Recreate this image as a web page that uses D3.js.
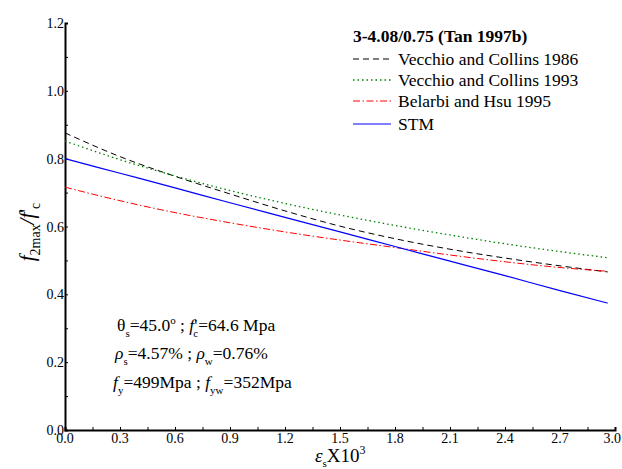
<!DOCTYPE html>
<html><head><meta charset="utf-8">
<script src="https://cdn.jsdelivr.net/npm/d3@7"></script>
<style>body{margin:0;background:#fff}svg{display:block}svg text{font-family:"Liberation Serif","Times New Roman",Tinos,"DejaVu Serif",serif !important;fill:#000}</style>
</head><body>
<svg id="c" width="622" height="469" font-family="Liberation Serif, Times New Roman, serif"></svg>
<script>
const strain = [0, 0.3, 0.6, 0.9, 1.2, 1.5, 1.8, 2.1, 2.4, 2.7, 2.96];
const vc1986 = [0.876, 0.806, 0.748, 0.696, 0.646, 0.601, 0.564, 0.533, 0.507, 0.484, 0.466];
const vc1993 = [0.852, 0.797, 0.749, 0.706, 0.668, 0.634, 0.603, 0.575, 0.549, 0.526, 0.508];
const belarbi = [0.716, 0.676, 0.641, 0.611, 0.584, 0.560, 0.538, 0.516, 0.496, 0.479, 0.468];
const stm = [0.800, 0.757, 0.714, 0.670, 0.627, 0.584, 0.541, 0.498, 0.455, 0.411, 0.374];
const seriesNames = ["Vecchio and Collins 1986", "Vecchio and Collins 1993", "Belarbi and Hsu 1995", "STM"];
const xTicks = [0, 0.3, 0.6, 0.9, 1.2, 1.5, 1.8, 2.1, 2.4, 2.7, 3.0];
const yTicks = [0, 0.2, 0.4, 0.6, 0.8, 1.0, 1.2];

const FONT = "Liberation Serif, Times New Roman, serif";
const svg = d3.select("#c");
const x = d3.scaleLinear().domain([0, 3.0]).range([65, 615]);
const y = d3.scaleLinear().domain([0, 1.2]).range([430, 23]);

const styles = [
  {color: "#000", dash: "6,4", w: 1},
  {color: "#008000", dash: "1.5,3", w: 1.3},
  {color: "#ff0000", dash: "7,2.5,1.5,2.5", w: 1},
  {color: "#0000ff", dash: null, w: 1.2}
];
const data = [vc1986, vc1993, belarbi, stm];

// axes
const xAxis = d3.axisBottom(x).tickValues(d3.range(0, 3.01, 0.15)).tickSize(-3).tickFormat("");
const gx = svg.append("g").attr("transform", "translate(0,430)").call(xAxis);
const yAxis = d3.axisLeft(y).tickValues(d3.range(0, 1.21, 0.1)).tickSize(-3).tickFormat("");
const gy = svg.append("g").attr("transform", "translate(65,0)").call(yAxis);
[gx, gy].forEach(g => {
  g.select(".domain").attr("stroke", "#000").attr("stroke-width", 2);
  g.selectAll(".tick line").attr("stroke", "#000").attr("stroke-width", 1);
});

svg.append("g").attr("font-family", FONT).selectAll("text").data(xTicks).join("text")
  .attr("x", (d, i) => i === xTicks.length - 1 ? 621 : x(d)).attr("y", 443)
  .attr("text-anchor", (d, i) => i === xTicks.length - 1 ? "end" : "middle")
  .attr("font-size", 14).text(d => d.toFixed(1));
svg.append("g").attr("font-family", FONT).selectAll("text").data(yTicks).join("text")
  .attr("x", 64).attr("y", d => y(d) + 5).attr("text-anchor", "end")
  .attr("font-size", 14).text(d => d.toFixed(1));

// lines
const line = d3.line().x((d, i) => x(strain[i])).y(d => y(d)).curve(d3.curveMonotoneX);
data.forEach((s, k) => {
  svg.append("path").datum(s).attr("d", line).attr("fill", "none")
    .attr("stroke", styles[k].color).attr("stroke-width", styles[k].w)
    .attr("stroke-dasharray", styles[k].dash);
});

// legend
const lg = svg.append("g").attr("font-family", FONT);
lg.append("text").attr("x", 353).attr("y", 42).attr("font-size", 17.5).attr("font-weight", "bold")
  .text("3-4.08/0.75 (Tan 1997b)");
const legY = [59, 80, 101, 124];
seriesNames.forEach((n, k) => {
  lg.append("line").attr("x1", 353).attr("x2", 391).attr("y1", legY[k]).attr("y2", legY[k])
    .attr("stroke", styles[k].color).attr("stroke-width", styles[k].w)
    .attr("stroke-dasharray", styles[k].dash);
  lg.append("text").attr("x", 398).attr("y", legY[k] + 6).attr("font-size", 17.5).text(n);
});

// annotations
const ann = svg.append("g").attr("font-size", 17.5).attr("font-family", FONT);
let t = ann.append("text").attr("x", 117).attr("y", 331);
t.append("tspan").text("θ");
t.append("tspan").attr("font-size", 11).attr("dy", 6).text("s");
t.append("tspan").attr("dy", -6).text("=45.0");
t.append("tspan").attr("font-size", 11).attr("dy", -7).text("o");
t.append("tspan").attr("dy", 7).text(" ; ");
t.append("tspan").attr("font-style", "italic").text("f");
t.append("tspan").text("'");
t.append("tspan").attr("font-size", 11).attr("dy", 6).attr("dx", -4).text("c");
t.append("tspan").attr("dy", -6).text("=64.6 Mpa");

t = ann.append("text").attr("x", 115).attr("y", 359);
t.append("tspan").attr("font-style", "italic").text("ρ");
t.append("tspan").attr("font-size", 11).attr("dy", 6).text("s");
t.append("tspan").attr("dy", -6).text("=4.57% ; ");
t.append("tspan").attr("font-style", "italic").text("ρ");
t.append("tspan").attr("font-size", 11).attr("dy", 6).text("w");
t.append("tspan").attr("dy", -6).text("=0.76%");

t = ann.append("text").attr("x", 113).attr("y", 388);
t.append("tspan").attr("font-style", "italic").text("f");
t.append("tspan").attr("font-size", 11).attr("dy", 6).text("y");
t.append("tspan").attr("dy", -6).text("=499Mpa ; ");
t.append("tspan").attr("font-style", "italic").text("f");
t.append("tspan").attr("font-size", 11).attr("dy", 6).text("yw");
t.append("tspan").attr("dy", -6).text("=352Mpa");

// axis titles
t = svg.append("text").attr("font-family", FONT).attr("x", 315).attr("y", 462).attr("font-size", 19);
t.append("tspan").attr("font-style", "italic").text("ε");
t.append("tspan").attr("font-size", 11).attr("dy", 5).text("s");
t.append("tspan").attr("dy", -5).text("X10");
t.append("tspan").attr("font-size", 12).attr("dy", -8).text("3");

t = svg.append("text").attr("font-family", FONT).attr("transform", "translate(34,232) rotate(-90)").attr("text-anchor", "middle").attr("font-size", 21);
t.append("tspan").attr("font-style", "italic").text("f");
t.append("tspan").attr("font-size", 14).attr("dy", 6).text("2max");
t.append("tspan").attr("dy", -6).attr("font-style", "italic").text("/f");
t.append("tspan").text("'");
t.append("tspan").attr("font-size", 14).attr("dy", 6).text("c");
</script>
</body></html>
